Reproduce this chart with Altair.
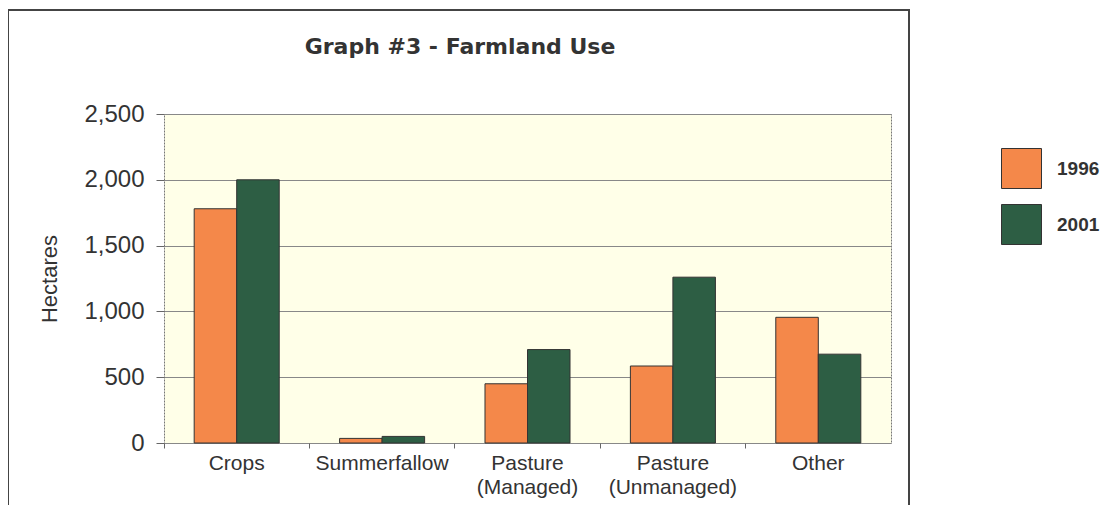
import altair as alt
import pandas as pd

categories = ["Crops", "Summerfallow", "Pasture\n(Managed)", "Pasture\n(Unmanaged)", "Other"]
years = ["1996", "2001"]
values_1996 = [1780, 35, 450, 585, 955]
values_2001 = [2000, 50, 710, 1260, 675]
y_ticks = [0, 500, 1000, 1500, 2000, 2500]
colors = ["#F4884A", "#2D5E44"]

rows = []
for c, v1, v2 in zip(categories, values_1996, values_2001):
    rows.append({"Category": c, "Year": years[0], "Hectares": v1})
    rows.append({"Category": c, "Year": years[1], "Hectares": v2})
df = pd.DataFrame(rows)

FONT = "Liberation Sans"
W, H = 727, 329

bars = alt.Chart(df).mark_bar(stroke="#333333", strokeWidth=1).encode(
    x=alt.X("Category:N", sort=categories,
            scale=alt.Scale(paddingInner=0, paddingOuter=0),
            axis=alt.Axis(title=None, bandPosition=0,
                          labelAngle=0, labelFontSize=21, labelColor="#333333",
                          labelFont=FONT, labelPadding=4, tickSize=5,
                          tickColor="#666666", domain=False,
                          labelExpr="split(datum.label, '\\n')",
                          labelLineHeight=24)),
    xOffset=alt.XOffset("Year:N", sort=years,
                        scale=alt.Scale(paddingInner=0, paddingOuter=0.71)),
    y=alt.Y("Hectares:Q", scale=alt.Scale(domain=[0, 2500], nice=False),
            axis=alt.Axis(values=y_ticks, format=",d", title="Hectares",
                          titleFontSize=22, titleFontWeight="normal",
                          titleColor="#333333", titleFont=FONT, titlePadding=22,
                          labelFontSize=24, labelColor="#333333", labelFont=FONT,
                          labelPadding=12, tickSize=8, tickColor="#666666",
                          domain=False, grid=True, gridColor="#888888",
                          gridWidth=1)),
    color=alt.Color("Year:N", sort=years,
                    scale=alt.Scale(domain=years, range=colors),
                    legend=alt.Legend(title=None, orient="none", legendX=837,
                                      legendY=34, symbolType="square",
                                      symbolSize=1600, symbolStrokeColor="#333333",
                                      symbolStrokeWidth=1, labelFontSize=19,
                                      labelFontWeight="bold", labelColor="#333333",
                                      labelFont=FONT, labelOffset=15,
                                      rowPadding=11, padding=0)),
)

one = pd.DataFrame({"t": ["Graph #3 - Farmland Use"]})

title = alt.Chart(one).mark_text(fontSize=22, fontWeight="bold", font="DejaVu Sans",
                                 color="#333333", align="center",
                                 baseline="alphabetic").encode(
    x=alt.value(296), y=alt.value(-60), text="t:N")

frame = alt.Chart(one).mark_rect(fill=None, stroke="#444444", strokeWidth=2).encode(
    x=alt.value(-156), x2=alt.value(745), y=alt.value(-104), y2=alt.value(420))

chart = alt.layer(frame, bars, title).properties(
    width=W, height=H,
    autosize=alt.AutoSizeParams(type="none"),
    padding={"left": 156, "top": 106, "right": 209, "bottom": 62},
    background="white",
).configure_view(
    fill="#FFFFE8", stroke="#777777", strokeDash=[2, 1], strokeWidth=1
)

chart.save("out.html", embed_options={"renderer": "svg", "actions": False})
